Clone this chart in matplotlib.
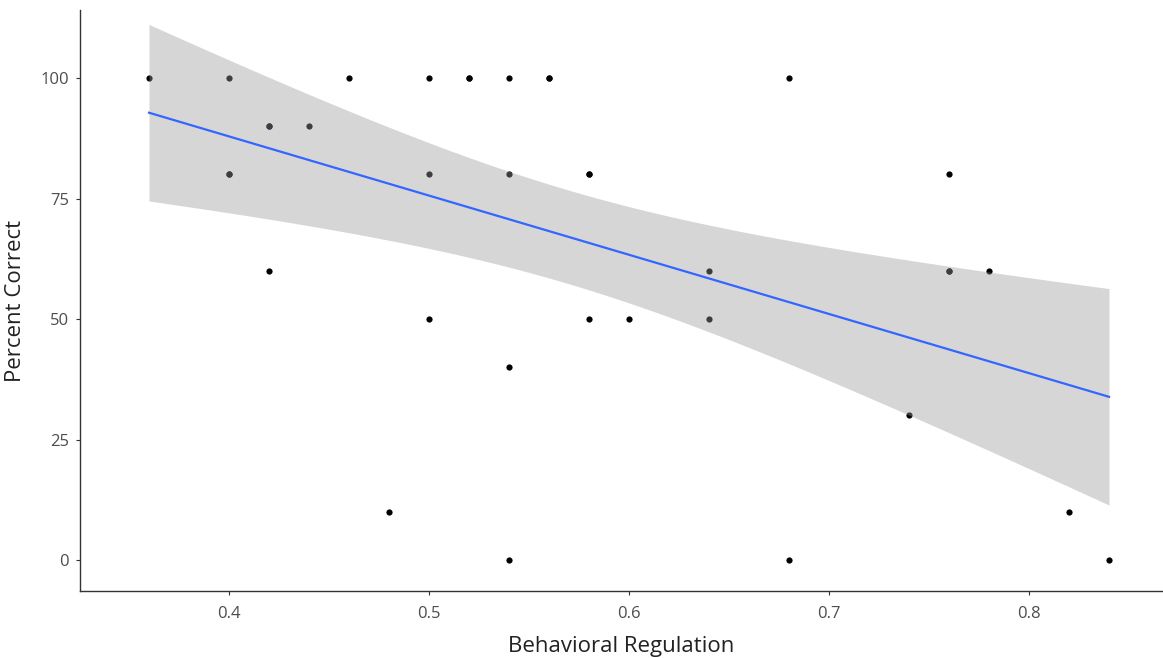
import numpy as np
import matplotlib
matplotlib.use("Agg")
import matplotlib.pyplot as plt

# data (some points coincide and overlap)
behavioral_regulation = [0.36, 0.40, 0.40, 0.40, 0.42, 0.42, 0.42, 0.44, 0.46, 0.48,
                         0.50, 0.50, 0.50, 0.52, 0.52, 0.54, 0.54, 0.54, 0.54, 0.56,
                         0.56, 0.58, 0.58, 0.58, 0.60, 0.64, 0.64, 0.68, 0.68, 0.74,
                         0.76, 0.76, 0.76, 0.78, 0.82, 0.84]
percent_correct = [100, 100, 80, 80, 90, 90, 60, 90, 100, 10,
                   100, 80, 50, 100, 100, 100, 80, 40, 0, 100,
                   100, 80, 80, 50, 50, 60, 50, 100, 0, 30,
                   80, 60, 60, 60, 10, 0]
x_ticks = [0.4, 0.5, 0.6, 0.7, 0.8]
y_ticks = [0, 25, 50, 75, 100]
T_975 = 2.032  # t quantile, df = n - 2 = 34

x = np.array(behavioral_regulation, float)
y = np.array(percent_correct, float)
n = len(x)
b1, b0 = np.polyfit(x, y, 1)
resid = y - (b0 + b1 * x)
s = np.sqrt(np.sum(resid ** 2) / (n - 2))
xg = np.linspace(x.min(), x.max(), 80)
yg = b0 + b1 * xg
se = s * np.sqrt(1 / n + (xg - x.mean()) ** 2 / np.sum((x - x.mean()) ** 2))
lo, hi = yg - T_975 * se, yg + T_975 * se

plt.rcParams['font.family'] = ['Open Sans', 'DejaVu Sans']
fig = plt.figure(figsize=(11.63, 6.58), dpi=100)
ax = fig.add_axes([80 / 1163, 67 / 658, 1 - 80 / 1163, (591 - 10) / 658])

ax.scatter(x, y, s=20, color='black', zorder=1, linewidths=0)
ax.fill_between(xg, lo, hi, color='#999999', alpha=0.4, linewidth=0, zorder=2)
ax.plot(xg, yg, color='#3366ff', linewidth=1.6, zorder=3)

ax.set_xlim(0.3255, 0.867)
ax.set_ylim(-6.4, 114.1)
ax.set_xticks(x_ticks)
ax.set_xticklabels([f"{t:g}" for t in x_ticks])
ax.set_yticks(y_ticks)
ax.set_yticklabels([str(t) for t in y_ticks])
for sp in ['top', 'right']:
    ax.spines[sp].set_visible(False)
for sp in ['left', 'bottom']:
    ax.spines[sp].set_color('#333333')
    ax.spines[sp].set_linewidth(1.0)
ax.tick_params(axis='both', colors='#333333', labelcolor='#4d4d4d', labelsize=12, length=3, width=0.8)
ax.tick_params(axis='y', pad=5)
ax.tick_params(axis='x', pad=8)
ax.set_xlabel('Behavioral Regulation', fontsize=16, color='#222222', labelpad=10)
ax.set_ylabel('Percent Correct', fontsize=16, color='#222222', labelpad=10)

fig.savefig('out.png', dpi=100)
